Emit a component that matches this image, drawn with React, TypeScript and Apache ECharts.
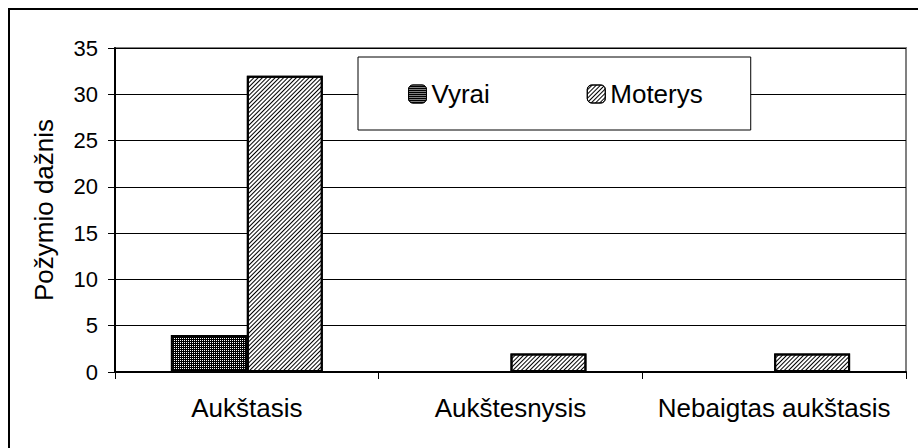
import React, { useEffect, useRef } from "react";
import * as echarts from "echarts";

const categories = ["Aukštasis", "Aukštesnysis", "Nebaigtas aukštasis"];
const vyrai = [4, 0, 0];
const moterys = [32, 2, 2];
const seriesNames = ["Vyrai", "Moterys"];
const yAxisName = "Požymio dažnis";

export default function App() {
  const ref = useRef<HTMLDivElement>(null);
  useEffect(() => {
    document.body.style.margin = "0";
    const chart = echarts.init(ref.current!, null, { renderer: "svg" });
    const font = "Liberation Sans, Arial, sans-serif";
    chart.setOption({
      animation: false,
      backgroundColor: "#fff",
      textStyle: { fontFamily: font, color: "#000" },
      graphic: [
        {
          type: "rect",
          shape: { x: 9, y: 9, width: 1000, height: 1000 },
          style: { fill: "none", stroke: "#000", lineWidth: 2 },
          z: 100,
        },
      ],
      grid: {
        left: 115,
        top: 48,
        right: 12,
        bottom: 76,
        show: true,
        borderColor: "#808080",
        borderWidth: 2,
        backgroundColor: "transparent",
      },
      legend: {
        data: seriesNames,
        left: 358,
        top: 57,
        orient: "horizontal",
        itemWidth: 18,
        itemHeight: 18,
        itemGap: 97,
        padding: [24, 48, 23, 50],
        backgroundColor: "#fff",
        borderColor: "#000",
        borderWidth: 1,
        borderRadius: 0,
        textStyle: { fontSize: 26, color: "#000", fontFamily: font },
        itemStyle: { borderWidth: 1, borderColor: "#000" },
      },
      xAxis: {
        type: "category",
        data: categories,
        axisLine: { lineStyle: { color: "#000", width: 2 } },
        axisTick: { show: true, length: 7, lineStyle: { color: "#000", width: 1 } },
        axisLabel: { interval: 0, fontSize: 26, color: "#000", margin: 23, fontFamily: font },
        splitLine: { show: false },
      },
      yAxis: {
        type: "value",
        min: 0,
        max: 35,
        interval: 5,
        name: yAxisName,
        nameLocation: "middle",
        nameGap: 58,
        nameRotate: 90,
        nameTextStyle: { fontSize: 26, color: "#000", fontFamily: font },
        axisLine: { show: true, lineStyle: { color: "#000", width: 2 } },
        axisTick: { show: true, length: 7, lineStyle: { color: "#000", width: 1 } },
        axisLabel: { fontSize: 22, color: "#000", margin: 17, fontFamily: font },
        splitLine: { show: true, lineStyle: { color: "#000", width: 1 } },
      },
      series: [
        {
          name: seriesNames[0],
          type: "bar",
          data: vyrai,
          barGap: "0%",
          barCategoryGap: "42.4%",
          itemStyle: {
            color: "#000",
            borderColor: "#000",
            borderWidth: 2,
            decal: {
              symbol: "rect",
              symbolSize: 1,
              color: "#fff",
              dashArrayX: [1, 1],
              dashArrayY: [1, 1],
              rotation: 0,
            },
          },
        },
        {
          name: seriesNames[1],
          type: "bar",
          data: moterys,
          barGap: "0%",
          barCategoryGap: "42.4%",
          itemStyle: {
            color: "#fff",
            borderColor: "#000",
            borderWidth: 2,
            decal: {
              symbol: "rect",
              symbolSize: 1,
              color: "#000",
              dashArrayX: [1, 0],
              dashArrayY: [1, 1.5],
              rotation: -Math.PI / 4,
            },
          },
        },
      ],
    });
    return () => chart.dispose();
  }, []);
  return <div ref={ref} style={{ width: 918, height: 448 }} />;
}
